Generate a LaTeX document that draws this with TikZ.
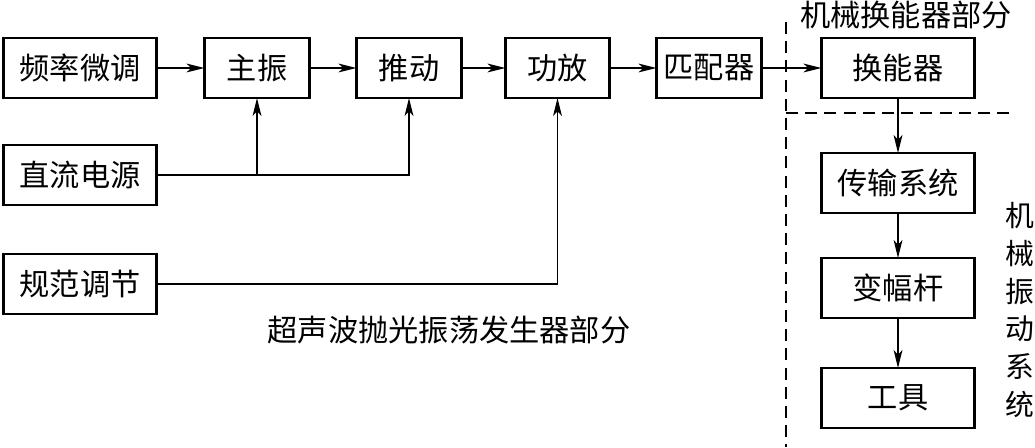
\documentclass[tikz,border=0pt]{standalone}
\usepackage{fontspec}
\newfontfamily\cjk{Noto Sans CJK SC}
\usetikzlibrary{positioning,arrows.meta}

\begin{document}
\begin{tikzpicture}[font=\cjk\fontsize{21.5}{26}\selectfont, >={Stealth[length=4.5mm,width=2.2mm,inset=1.2mm]},
      bloque/.style={draw, minimum height=1.5cm, inner sep=0pt, outer sep=0pt, line width=2pt},
      flecha/.style={->, line width=1.1pt},
      limite/.style={line width=1.2pt, dash pattern=on 0.3cm off 0.18cm}]
    \useasboundingbox (0,0) rectangle (25.875,11.175);
    % generador
    \node[bloque, minimum width=3.825cm] (pinlv) at (2.0,9.475) {频率微调};
    \node[bloque, minimum width=2.625cm, right=1.2cm of pinlv] (zhuzhen) {主振};
    \node[bloque, minimum width=2.625cm, right=1.175cm of zhuzhen] (tuidong) {推动};
    \node[bloque, minimum width=2.6cm, right=1.1cm of tuidong] (gongfang) {功放};
    \node[bloque, minimum width=2.625cm, right=1.175cm of gongfang] (pipei) {匹配器};
    \node[bloque, minimum width=3.825cm, below=1.175cm of pinlv] (zhiliu) {直流电源};
    \node[bloque, minimum width=3.825cm, below=1.225cm of zhiliu] (guifan) {规范调节};
    % transductor
    \node[bloque, minimum width=3.825cm, right=1.5cm of pipei] (huanneng) {换能器};
    \node[bloque, minimum width=3.825cm, below=1.375cm of huanneng] (chuanshu) {传输系统};
    \node[bloque, minimum width=3.825cm, below=1.125cm of chuanshu] (bianfu) {变幅杆};
    \node[bloque, minimum width=3.825cm, below=1.25cm of bianfu] (gongju) {工具};
    \node (genlbl) at (11.225,2.925) {超声波抛光振荡发生器部分};
    \node (translbl) at (22.65,10.8) {机械换能器部分};
    \node[align=center, font=\cjk\fontsize{20.5}{27}\selectfont] (vibrlbl) at (25.5,3.425) {机\\械\\振\\动\\系\\统};
    \draw[flecha] (pinlv) -- (zhuzhen);
    \draw[flecha] (zhuzhen) -- (tuidong);
    \draw[flecha] (tuidong) -- (gongfang);
    \draw[flecha] (gongfang) -- (pipei);
    \draw[flecha] (pipei) -- (huanneng);
    \draw[flecha] (zhiliu.east) -| (zhuzhen.south);
    \draw[flecha] (zhiliu.east) -| (tuidong.south);
    \draw[flecha] (guifan.east) -| (gongfang.south);
    \draw[flecha] (huanneng) -- (chuanshu);
    \draw[flecha] (chuanshu) -- (bianfu);
    \draw[flecha] (bianfu) -- (gongju);
    % limites
    \coordinate (lim1) at (19.65,10.625);
    \coordinate (lim2) at (19.65,0);
    \coordinate (lim3) at (25.325,8.35);
    \draw[limite] (lim1) -- (lim2);
    \draw[limite] (lim1 |- lim3) -- (lim3);
\end{tikzpicture}
\end{document}
